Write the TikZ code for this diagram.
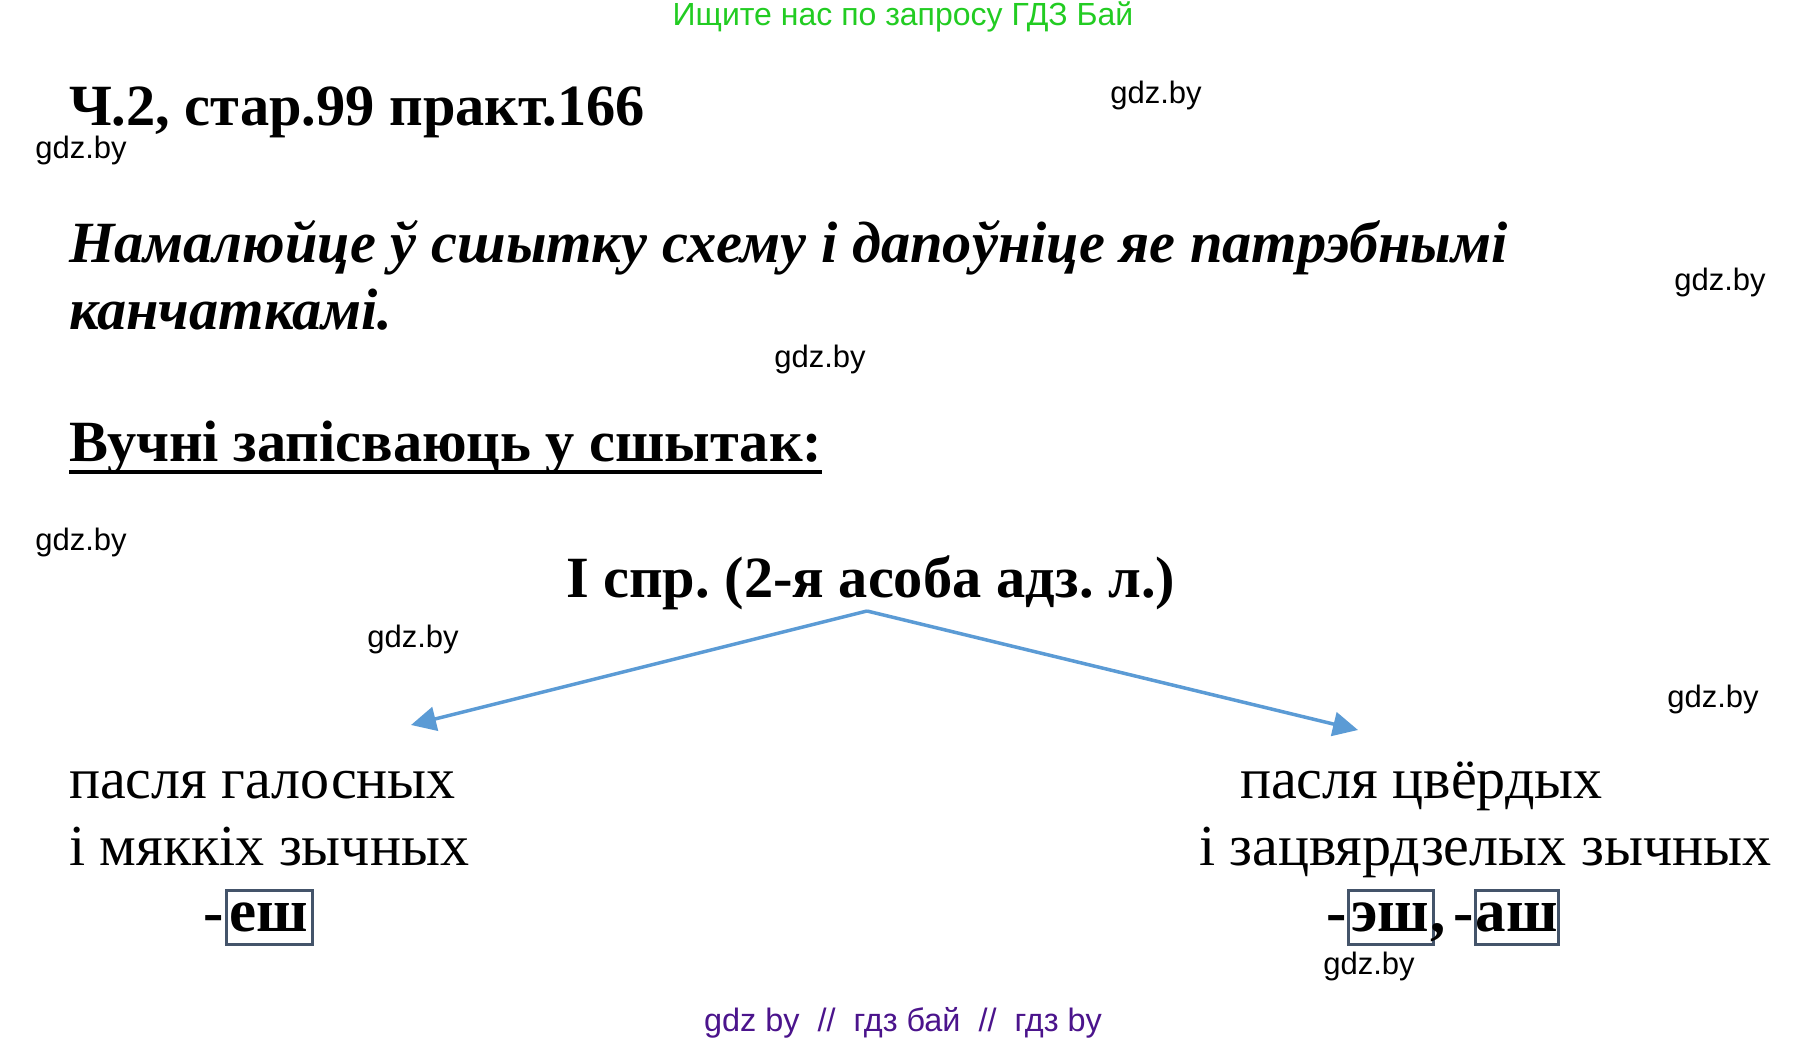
\documentclass[tikz,border=0pt]{standalone}
\usepackage{fontspec}
\setmainfont{Liberation Serif}
\newfontfamily\wmfont{Liberation Sans}
\usetikzlibrary{arrows.meta}
\frenchspacing
\definecolor{arrowblue}{HTML}{5B9BD5}
\definecolor{boxslate}{HTML}{44546A}
\definecolor{topgreen}{HTML}{22CC22}
\definecolor{botpurple}{HTML}{4B148C}
\tikzset{
  txt/.style={inner sep=0pt, outer sep=0pt, anchor=base west},
  wm/.style={inner sep=0pt, font=\wmfont\fontsize{31}{34}\selectfont, text=black},
  heading/.style={txt, font=\bfseries\fontsize{58.4}{62}\selectfont},
  task/.style={txt, font=\bfseries\itshape\fontsize{58.4}{62}\selectfont},
  body/.style={txt, font=\fontsize{58}{62}\selectfont},
  endbox/.style={draw=boxslate, line width=3pt, inner sep=0pt, minimum height=54pt, text depth=0pt, font=\bfseries\fontsize{61}{64}\selectfont},
  dashtxt/.style={inner sep=0pt, anchor=base east, font=\bfseries\fontsize{61}{64}\selectfont},
  link/.style={draw=arrowblue, line width=3.5pt, -{Triangle[length=25pt,width=24pt]}}
}
\begin{document}
\begin{tikzpicture}[x=1pt,y=-1pt]
\useasboundingbox[fill=white] (0,0) rectangle (1807,1043);
% top banner
\node[inner sep=0pt, font=\wmfont\fontsize{32}{35}\selectfont, text=topgreen] (banner) at (903,17) {Ищите нас по запросу ГДЗ Бай};
% title
\node[heading] (title) at (69,126) {Ч.2, стар.99 практ.166};
% task
\node[task] (task1) at (69,262) {Намалюйце ў сшытку схему і дапоўніце яе патрэбнымі};
\node[task] (task2) at (69,329) {канчаткамі.};
% students write
\node[heading] (write) at (69,461) {Вучні запісваюць у сшытак:};
\draw[line width=4pt] ([yshift=-11pt]write.base west) -- ([yshift=-11pt]write.base east);
% root
\node[heading] (root) at (566,597) {I спр. (2-я асоба адз. л.)};
\coordinate (apex) at (867,611);
\coordinate (lt) at (411,725);
\coordinate (rt) at (1358,730);
\draw[link] (apex) -- (lt);
\draw[link] (apex) -- (rt);
% left branch
\node[body] (l1) at (69,798) {пасля галосных};
\node[body] (l2) at (69,865) {і мяккіх зычных};
\node[endbox, minimum width=86pt] (e1) at (269,917) {еш};
\node[dashtxt] (d1) at ([yshift=-15pt]e1.west) {-};
% right branch
\node[body] (r1) at (1240,798) {пасля цвёрдых};
\node[body] (r2) at (1199,865) {і зацвярдзелых зычных};
\node[endbox, minimum width=85pt] (e2) at (1390.5,917) {эш};
\node[dashtxt] (d2) at ([yshift=-15pt]e2.west) {-};
\node[inner sep=0pt, anchor=base west, font=\bfseries\fontsize{61}{64}\selectfont] (comma) at ([xshift=-4pt,yshift=-15pt]e2.east) {,};
\node[endbox, minimum width=83pt] (e3) at (1516.5,917) {аш};
\node[dashtxt] (d3) at ([yshift=-15pt]e3.west) {-};
% watermarks
\node[wm] (w1) at (1156,95) {gdz.by};
\node[wm] (w2) at (81,150) {gdz.by};
\node[wm] (w3) at (1720,282) {gdz.by};
\node[wm] (w4) at (820,359) {gdz.by};
\node[wm] (w5) at (81,542) {gdz.by};
\node[wm] (w6) at (413,639) {gdz.by};
\node[wm] (w7) at (1713,699) {gdz.by};
\node[wm] (w8) at (1369,966) {gdz.by};
% bottom banner
\node[inner sep=0pt, font=\wmfont\fontsize{32.4}{35}\selectfont, text=botpurple] (footer) at (903,1023) {gdz by\ \ //\ \ гдз бай\ \ //\ \ гдз by};
\end{tikzpicture}
\end{document}
